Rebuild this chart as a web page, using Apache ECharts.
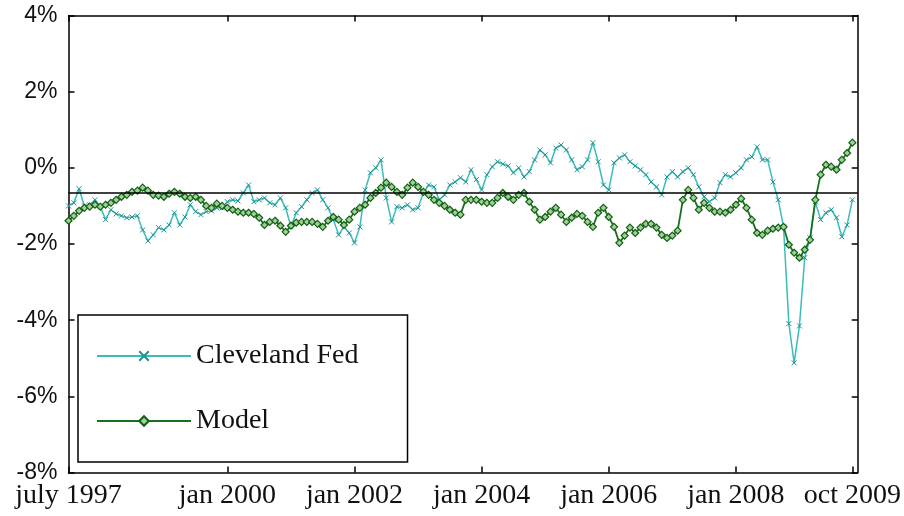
<!DOCTYPE html>
<html>
<head>
<meta charset="utf-8">
<script src="https://cdn.jsdelivr.net/npm/echarts@6/dist/echarts.min.js"></script>
<style>
html,body{margin:0;padding:0;background:#fff;}
#chart{width:904px;height:516px;}
</style>
</head>
<body>
<div id="chart"></div>
<script>
// month index 0 = july 1997, one point per month
var clevelandFed = [
-1.00,-0.92,-0.55,-1.00,-0.97,-0.84,-1.02,-1.36,-1.10,-1.21,
-1.26,-1.31,-1.29,-1.26,-1.63,-1.92,-1.76,-1.57,-1.63,-1.50,
-1.18,-1.50,-1.29,-0.97,-1.15,-1.23,-1.15,-1.13,-1.05,-1.05,
-0.89,-0.84,-0.87,-0.66,-0.45,-0.89,-0.84,-0.79,-0.92,-0.97,
-0.79,-1.05,-1.55,-1.18,-1.02,-0.84,-0.66,-0.58,-0.84,-1.05,
-1.36,-1.76,-1.55,-1.71,-1.97,-1.55,-0.58,-0.13,0.00,0.21,
-0.79,-1.42,-1.02,-1.05,-0.97,-1.10,-1.05,-0.66,-0.45,-0.50,
-0.84,-0.71,-0.45,-0.37,-0.26,-0.37,-0.05,-0.31,-0.58,-0.18,
0.03,0.16,0.10,0.05,-0.13,0.00,-0.24,-0.10,0.21,0.47,
0.34,0.13,0.52,0.60,0.47,0.21,-0.05,0.03,0.21,0.66,
0.16,-0.45,-0.58,0.13,0.26,0.34,0.16,0.05,-0.05,-0.18,
-0.37,-0.50,-0.71,-0.24,-0.10,-0.24,-0.10,0.00,-0.18,-0.50,
-0.76,-0.89,-0.79,-0.39,-0.18,-0.24,-0.13,0.00,0.21,0.29,
0.55,0.21,0.21,-0.37,-0.84,-1.55,-4.09,-5.12,-4.15,-2.36,
-1.84,-0.89,-1.36,-1.18,-1.10,-1.31,-1.81,-1.50,-0.84
];
var model = [
-1.39,-1.26,-1.13,-1.05,-1.02,-0.97,-1.02,-0.97,-0.92,-0.84,
-0.76,-0.71,-0.63,-0.60,-0.52,-0.60,-0.71,-0.73,-0.76,-0.68,
-0.63,-0.68,-0.76,-0.79,-0.76,-0.84,-1.00,-1.05,-0.94,-1.00,
-1.05,-1.10,-1.15,-1.18,-1.18,-1.21,-1.31,-1.50,-1.42,-1.39,
-1.52,-1.68,-1.52,-1.44,-1.42,-1.42,-1.42,-1.47,-1.55,-1.39,
-1.29,-1.36,-1.50,-1.36,-1.15,-1.05,-0.97,-0.79,-0.66,-0.52,
-0.39,-0.50,-0.63,-0.71,-0.52,-0.39,-0.50,-0.63,-0.71,-0.84,
-0.92,-1.00,-1.10,-1.18,-1.23,-0.84,-0.84,-0.84,-0.89,-0.92,
-0.92,-0.79,-0.66,-0.76,-0.84,-0.71,-0.66,-0.89,-1.10,-1.36,
-1.29,-1.15,-1.05,-1.23,-1.42,-1.31,-1.21,-1.26,-1.42,-1.55,
-1.18,-1.05,-1.29,-1.55,-1.97,-1.78,-1.57,-1.71,-1.57,-1.47,
-1.47,-1.57,-1.76,-1.84,-1.78,-1.65,-0.84,-0.58,-0.79,-1.10,
-0.92,-1.05,-1.15,-1.15,-1.18,-1.10,-0.97,-0.81,-1.05,-1.36,
-1.71,-1.76,-1.65,-1.60,-1.57,-1.55,-2.02,-2.23,-2.36,-2.15,
-1.89,-0.84,-0.18,0.08,0.03,-0.05,0.21,0.39,0.66
];
var referenceLevel = -0.66;
var tickMonths = [0, 30, 54, 78, 102, 126, 148];
var tickLabels = ['july 1997', 'jan 2000', 'jan 2002', 'jan 2004', 'jan 2006', 'jan 2008', 'oct 2009'];

function toPairs(arr){ return arr.map(function(v,i){ return [i, v]; }); }

var chart = echarts.init(document.getElementById('chart'), null, {renderer:'canvas'});
var axisLineStyle = {color:'#000', width:1.5};
var tickStyle = {show:true, inside:true, length:6, lineStyle:{color:'#000', width:1.5}};
var serif = '"Liberation Serif", "Times New Roman", serif';

chart.setOption({
  animation:false,
  backgroundColor:'#fff',
  grid:{left:68.5, right:45.5, top:15.5, bottom:43.5, containLabel:false},
  legend:{
    orient:'vertical',
    left:78, top:315,
    padding:[26,49,26,18],
    itemGap:35,
    itemWidth:94, itemHeight:12,
    backgroundColor:'#fff',
    borderColor:'#000', borderWidth:1.5,
    textStyle:{fontFamily:serif, fontSize:28, color:'#111', lineHeight:30},
    data:['Cleveland Fed','Model']
  },
  xAxis:[{
    type:'value', min:0, max:149, position:'bottom',
    splitLine:{show:false},
    axisLine:{show:true, onZero:false, lineStyle:axisLineStyle},
    axisTick:Object.assign({customValues:tickMonths}, tickStyle),
    axisLabel:{
      customValues:tickMonths,
      margin:9,
      fontFamily:serif, fontSize:28, color:'#111',
      formatter:function(v){ var k = tickMonths.indexOf(v); return k>=0 ? tickLabels[k] : ''; }
    }
  },{
    type:'value', min:0, max:149, position:'top',
    splitLine:{show:false},
    axisLine:{show:true, onZero:false, lineStyle:axisLineStyle},
    axisTick:Object.assign({customValues:tickMonths}, tickStyle),
    axisLabel:{show:false}
  }],
  yAxis:[{
    type:'value', min:-8, max:4, interval:2, position:'left',
    splitLine:{show:false},
    axisLine:{show:true, onZero:false, lineStyle:axisLineStyle},
    axisTick:tickStyle,
    axisLabel:{
      margin:11,
      fontFamily:'"Liberation Sans", Arial, sans-serif', fontSize:23, color:'#111',
      formatter:function(v){ return v + '%'; }
    }
  },{
    type:'value', min:-8, max:4, interval:2, position:'right',
    splitLine:{show:false},
    axisLine:{show:true, onZero:false, lineStyle:axisLineStyle},
    axisTick:tickStyle,
    axisLabel:{show:false}
  }],
  series:[{
    name:'Cleveland Fed',
    type:'line',
    data:toPairs(clevelandFed),
    symbol:'path://M0,0L10,10M10,0L0,10',
    symbolSize:5,
    showAllSymbol:true,
    lineStyle:{color:'#3bbcbc', width:1.5},
    itemStyle:{color:'rgba(0,0,0,0)', borderColor:'#23928f', borderWidth:1},
    z:2
  },{
    name:'Model',
    type:'line',
    data:toPairs(model),
    symbol:'diamond',
    symbolSize:7,
    showAllSymbol:true,
    lineStyle:{color:'#16721a', width:1.8},
    itemStyle:{color:'#9fd097', borderColor:'#125e14', borderWidth:1.2},
    z:3,
    markLine:{
      silent:true,
      symbol:'none',
      label:{show:false},
      lineStyle:{color:'#000', width:1.5, type:'solid'},
      data:[{yAxis:referenceLevel}]
    }
  }]
});
</script>
</body>
</html>
